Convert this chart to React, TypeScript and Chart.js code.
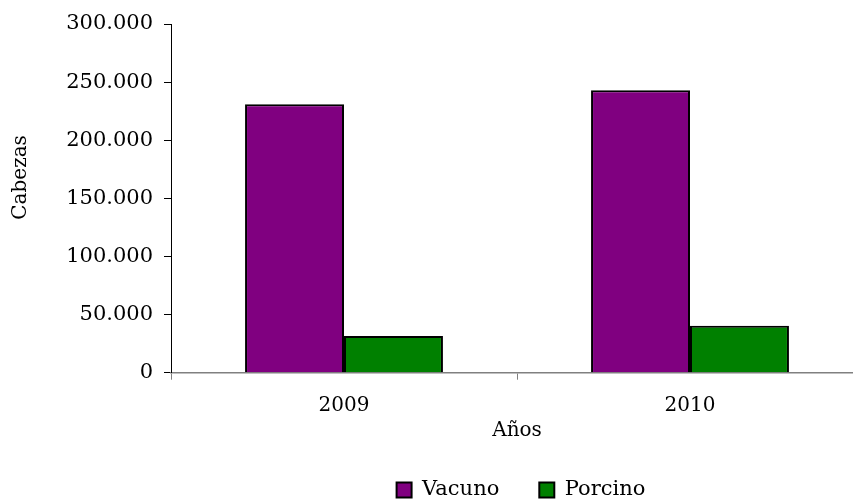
import React, { useEffect, useRef } from "react";
import { Chart, registerables } from "chart.js";

Chart.register(...registerables);

const categories = ["2009", "2010"];
const seriesNames = ["Vacuno", "Porcino"];
const vacuno = [231000, 243000];
const porcino = [31600, 40400];
const yMin = 0;
const yMax = 300000;
const yStep = 50000;
const xTitle = "Años";
const yTitle = "Cabezas";

function fmt(v: number): string {
  return String(Math.round(v)).replace(/\B(?=(\d{3})+(?!\d))/g, ".");
}

const FAMILY = "'DejaVu Serif', serif";

const yTitlePlugin = {
  id: "yTitleLeft",
  afterLayout(chart: any) {
    if (chart.legend) {
      chart.legend.left += 4;
      chart.legend.right += 4;
    }
  },
  afterDraw(chart: any) {
    const ctx = chart.ctx;
    const area = chart.chartArea;
    ctx.save();
    ctx.font = `20px ${FAMILY}`;
    ctx.fillStyle = "#000";
    ctx.textAlign = "center";
    ctx.textBaseline = "middle";
    const cy = area.top + (area.bottom - area.top) * 0.44;
    ctx.translate(20.5, cy);
    ctx.rotate(-Math.PI / 2);
    ctx.fillText(yTitle, 0, 0);
    ctx.restore();
  },
};

export default function App() {
  const ref = useRef<HTMLCanvasElement | null>(null);

  useEffect(() => {
    if (!ref.current) return;
    const font = { family: FAMILY, size: 20 };
    const fontL = { family: FAMILY, size: 21 };
    const chart = new Chart(ref.current, {
      type: "bar",
      data: {
        labels: categories,
        datasets: [
          {
            label: seriesNames[0],
            data: vacuno,
            backgroundColor: "#800080",
            borderColor: "#000000",
            borderWidth: 2,
            categoryPercentage: 0.572,
            barPercentage: 1,
          },
          {
            label: seriesNames[1],
            data: porcino,
            backgroundColor: "#008000",
            borderColor: "#000000",
            borderWidth: 2,
            categoryPercentage: 0.572,
            barPercentage: 1,
          },
        ],
      },
      plugins: [yTitlePlugin],
      options: {
        animation: false,
        responsive: true,
        maintainAspectRatio: false,
        layout: { padding: { top: 24, bottom: -11.5, left: 0, right: 0 } },
        plugins: {
          legend: {
            position: "bottom",
            fullSize: false,
            labels: {
              boxWidth: 15,
              boxHeight: 15,
              padding: 40,
              font: fontL,
              color: "#000",
            },
          },
          tooltip: { enabled: false },
        },
        scales: {
          x: {
            grid: {
              display: true,
              drawOnChartArea: false,
              drawTicks: true,
              tickLength: 7,
              color: "#808080",
              offset: true,
            },
            border: { color: "#808080", width: 1.5 },
            ticks: { padding: 13.8, font, color: "#000" },
            title: {
              display: true,
              text: xTitle,
              font,
              color: "#000",
              padding: { top: 0, bottom: -3.5 },
            },
            afterFit: (s: any) => {
              s.height = 66.8;
            },
          },
          y: {
            min: yMin,
            max: yMax,
            ticks: {
              stepSize: yStep,
              padding: 11,
              font: fontL,
              color: "#000",
              callback: (v: any) => fmt(Number(v)),
            },
            grid: {
              drawOnChartArea: false,
              drawTicks: true,
              tickLength: 7,
              color: "#000",
            },
            border: { color: "#000", width: 1 },
            title: { display: false },
            afterFit: (s: any) => {
              s.width = 171;
            },
          },
        },
      },
    });
    return () => chart.destroy();
  }, []);

  return (
    <div
      style={{
        position: "fixed",
        left: 0,
        top: 0,
        width: 853,
        height: 499,
        overflow: "hidden",
        background: "#fff",
      }}
    >
      <div style={{ position: "relative", width: 863, height: 499 }}>
        <canvas ref={ref} />
      </div>
    </div>
  );
}
